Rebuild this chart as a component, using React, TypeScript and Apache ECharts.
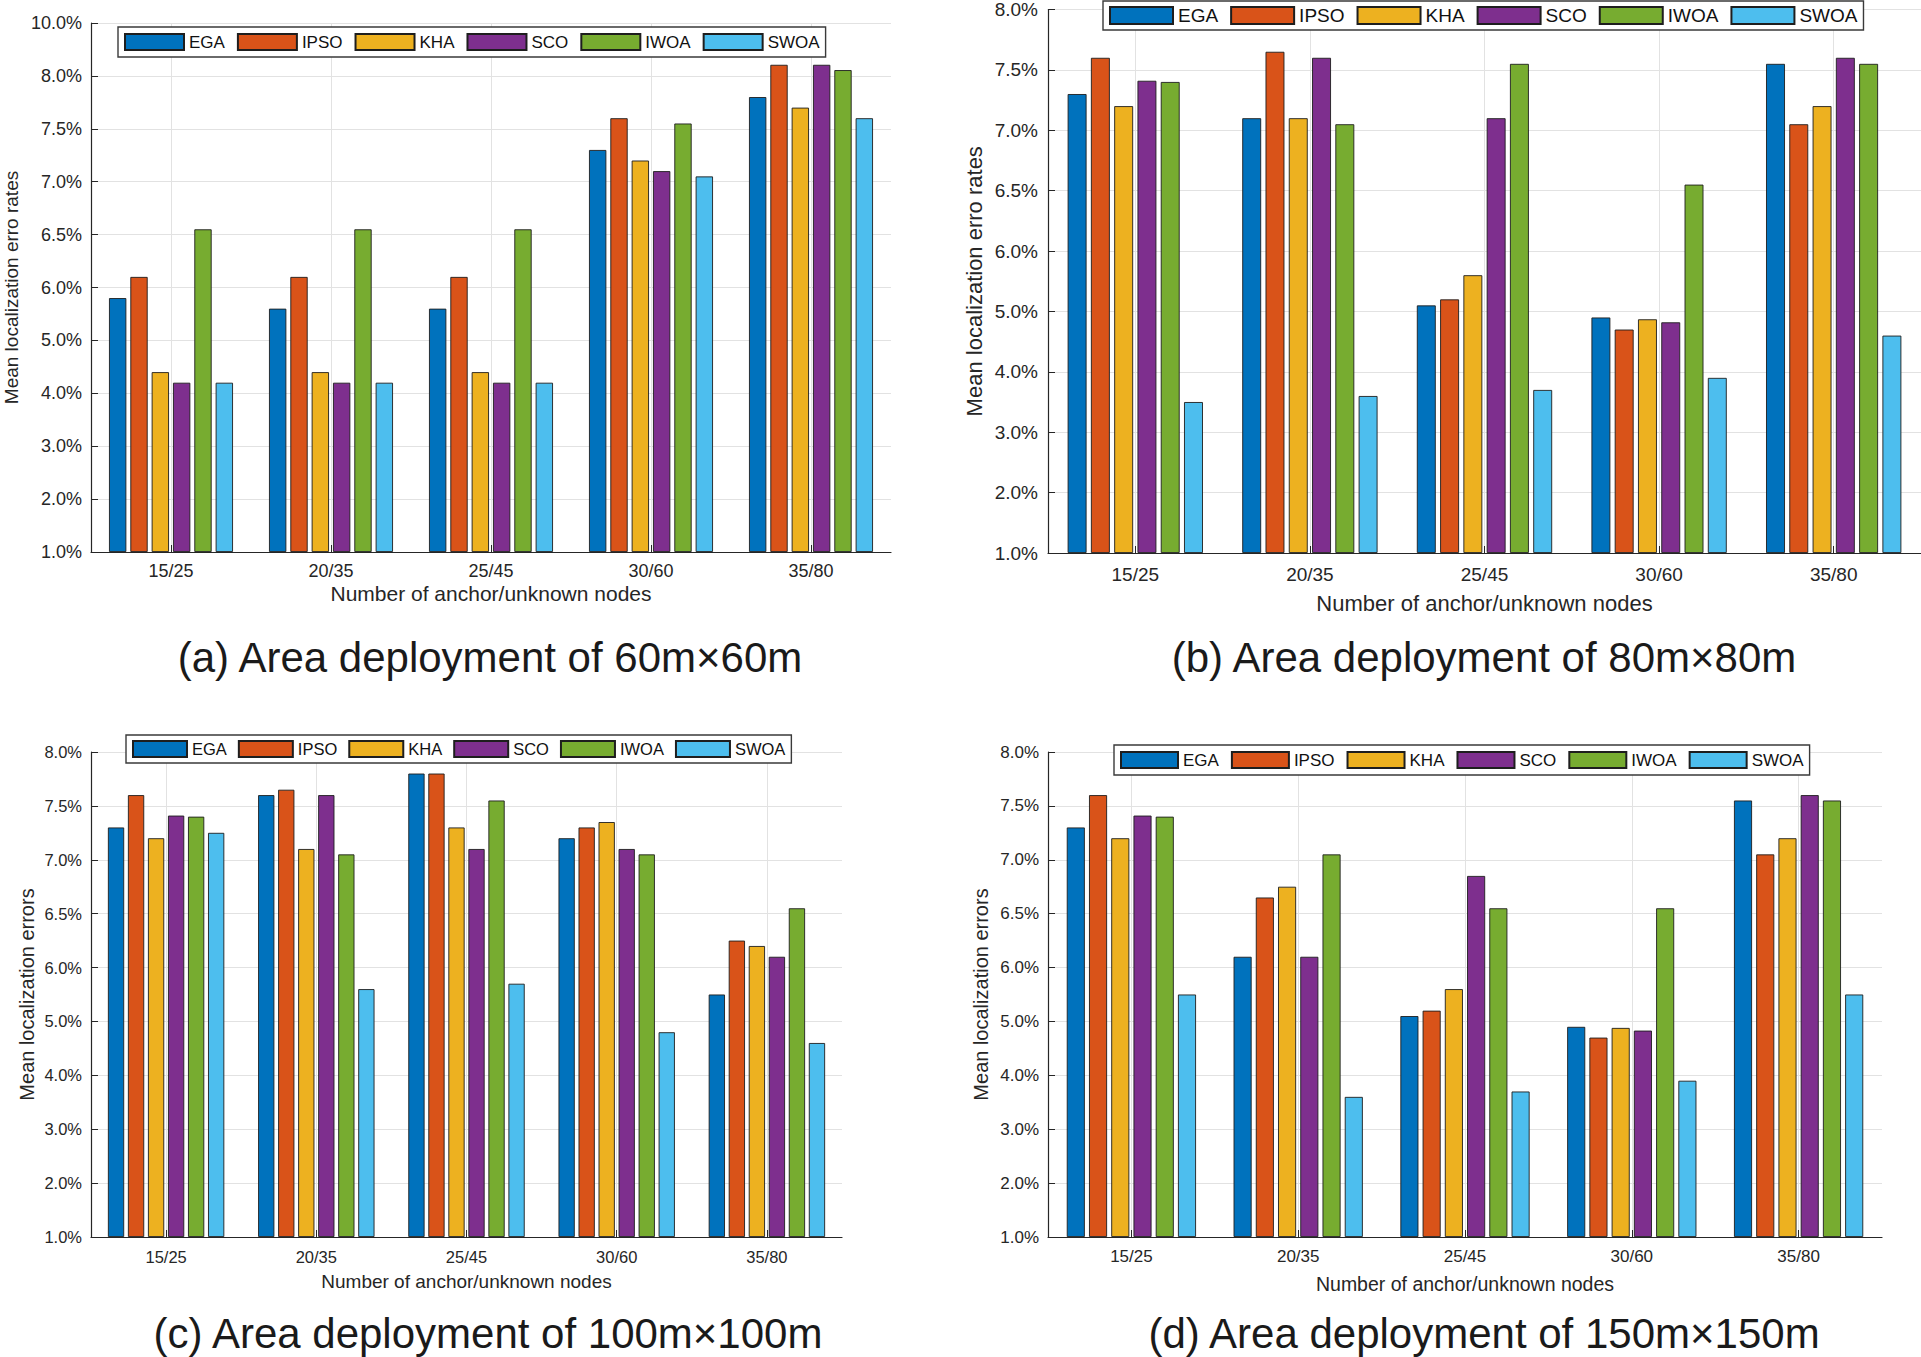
import React, { useEffect, useRef } from "react";
import * as echarts from "echarts";

// ---------- data ----------
const categories = ["15/25", "20/35", "25/45", "30/60", "35/80"];
const algorithms = ["EGA", "IPSO", "KHA", "SCO", "IWOA", "SWOA"];
const colors = ["#0072BD", "#D95319", "#EDB120", "#7E2F8E", "#77AC30", "#4DBEEE"];

// y tick labels as printed on each panel (evenly spaced on the axis)
const tickLabelsA = ["1.0%", "2.0%", "3.0%", "4.0%", "5.0%", "6.0%", "6.5%", "7.0%", "7.5%", "8.0%", "10.0%"];
const tickLabelsBCD = ["1.0%", "2.0%", "3.0%", "4.0%", "5.0%", "6.0%", "6.5%", "7.0%", "7.5%", "8.0%"];

// rows: EGA, IPSO, KHA, SCO, IWOA, SWOA ; columns: categories (values in %)
const valuesA = [
  [5.8, 5.6, 5.6, 7.3, 7.8],
  [6.1, 6.1, 6.1, 7.6, 8.42],
  [4.4, 4.4, 4.4, 7.2, 7.7],
  [4.2, 4.2, 4.2, 7.1, 8.42],
  [6.55, 6.55, 6.55, 7.55, 8.22],
  [4.2, 4.2, 4.2, 7.05, 7.6],
];
const valuesB = [
  [7.3, 7.1, 5.1, 4.9, 7.55],
  [7.6, 7.65, 5.2, 4.7, 7.05],
  [7.2, 7.1, 5.6, 4.87, 7.2],
  [7.41, 7.6, 7.1, 4.82, 7.6],
  [7.4, 7.05, 7.55, 6.55, 7.55],
  [3.5, 3.6, 3.7, 3.9, 4.6],
];
const valuesC = [
  [7.3, 7.6, 7.8, 7.2, 5.5],
  [7.6, 7.65, 7.8, 7.3, 6.25],
  [7.2, 7.1, 7.3, 7.35, 6.2],
  [7.41, 7.6, 7.1, 7.1, 6.1],
  [7.4, 7.05, 7.55, 7.05, 6.55],
  [7.25, 5.6, 5.7, 4.8, 4.6],
];
const valuesD = [
  [7.3, 6.1, 5.1, 4.9, 7.55],
  [7.6, 6.65, 5.2, 4.7, 7.05],
  [7.2, 6.75, 5.6, 4.88, 7.2],
  [7.41, 6.1, 6.85, 4.83, 7.6],
  [7.4, 7.05, 6.55, 6.55, 7.55],
  [5.5, 3.6, 3.7, 3.9, 5.5],
];

const panelTitles = [
  "(a) Area deployment of 60m×60m",
  "(b) Area deployment of 80m×80m",
  "(c) Area deployment of 100m×100m",
  "(d) Area deployment of 150m×150m",
];
const yNames = [
  "Mean localization erro rates",
  "Mean localization erro rates",
  "Mean localization errors",
  "Mean localization errors",
];
const xName = "Number of anchor/unknown nodes";

// ---------- layout ----------
const FONT = "'Liberation Sans', Arial, Helvetica, sans-serif";
const TXT = "#262626";
const GRIDC = "#e2e2e2";

const layout = [
  {
    values: valuesA, ticks: tickLabelsA,
    grid: { left: 91, top: 23, width: 800, height: 529 },
    legend: { left: 118, top: 27, itemWidth: 59, itemHeight: 16, font: 17, gap: 12, pad: [6, 6] },
    tickFont: 18, xNameFont: 21, xNameGap: 31, xLabelMargin: 10, yLabelMargin: 9,
    yNameFont: 19, yNameGap: 70,
    title: { x: 490, y: 657 },
  },
  {
    values: valuesB, ticks: tickLabelsBCD,
    grid: { left: 1048, top: 9, width: 873, height: 544 },
    legend: { left: 1103, top: 1, itemWidth: 63, itemHeight: 17, font: 19, gap: 12, pad: [5, 6] },
    tickFont: 19, xNameFont: 22, xNameGap: 39, xLabelMargin: 12, yLabelMargin: 10,
    yNameFont: 22, yNameGap: 63,
    title: { x: 1484, y: 657 },
  },
  {
    values: valuesC, ticks: tickLabelsBCD,
    grid: { left: 91, top: 752, width: 751, height: 485 },
    legend: { left: 126, top: 735, itemWidth: 54, itemHeight: 16, font: 16.5, gap: 11, pad: [5, 6] },
    tickFont: 16.5, xNameFont: 19, xNameGap: 35, xLabelMargin: 11, yLabelMargin: 9,
    yNameFont: 20, yNameGap: 54,
    title: { x: 488, y: 1333 },
  },
  {
    values: valuesD, ticks: tickLabelsBCD,
    grid: { left: 1048, top: 752, width: 834, height: 485 },
    legend: { left: 1114, top: 745, itemWidth: 57, itemHeight: 16, font: 17, gap: 12, pad: [6, 6] },
    tickFont: 17, xNameFont: 19.5, xNameGap: 37, xLabelMargin: 11, yLabelMargin: 9,
    yNameFont: 20, yNameGap: 57,
    title: { x: 1484, y: 1333 },
  },
];

// map a percentage onto the evenly spaced (non-linear) printed tick scale
function toAxis(v: number, labels: string[]): number {
  const t = labels.map((s) => parseFloat(s));
  for (let i = 0; i < t.length - 1; i++) {
    if (v <= t[i + 1]) return i + (v - t[i]) / (t[i + 1] - t[i]);
  }
  return t.length - 1;
}

function buildOption(): any {
  const grid: any[] = [];
  const xAxis: any[] = [];
  const yAxis: any[] = [];
  const legend: any[] = [];
  const series: any[] = [];
  const graphic: any[] = [];

  layout.forEach((p, i) => {
    grid.push({ ...p.grid, containLabel: false });
    xAxis.push({
      type: "category",
      gridIndex: i,
      data: categories,
      boundaryGap: true,
      axisLine: { show: true, lineStyle: { color: TXT, width: 1.2 } },
      axisTick: { show: true, inside: true, alignWithLabel: true, length: 7, lineStyle: { color: TXT, width: 1 } },
      axisLabel: { color: TXT, fontSize: p.tickFont, fontFamily: FONT, margin: p.xLabelMargin },
      splitLine: { show: true, alignWithLabel: true, lineStyle: { color: GRIDC, width: 1 } },
      name: xName,
      nameLocation: "middle",
      nameGap: p.xNameGap,
      nameTextStyle: { color: TXT, fontSize: p.xNameFont, fontFamily: FONT },
    });
    const labels = p.ticks;
    yAxis.push({
      type: "value",
      gridIndex: i,
      min: 0,
      max: labels.length - 1,
      interval: 1,
      axisLine: { show: true, lineStyle: { color: TXT, width: 1.2 } },
      axisTick: { show: true, inside: true, length: 7, lineStyle: { color: TXT, width: 1 } },
      axisLabel: {
        color: TXT,
        fontSize: p.tickFont,
        fontFamily: FONT,
        margin: p.yLabelMargin,
        formatter: (v: number) => labels[Math.round(v)] ?? "",
      },
      splitLine: { show: true, lineStyle: { color: GRIDC, width: 1 } },
      name: yNames[i],
      nameLocation: "middle",
      nameGap: p.yNameGap,
      nameTextStyle: { color: TXT, fontSize: p.yNameFont, fontFamily: FONT },
    });
    legend.push({
      data: algorithms,
      orient: "horizontal",
      left: p.legend.left,
      top: p.legend.top,
      itemWidth: p.legend.itemWidth,
      itemHeight: p.legend.itemHeight,
      itemGap: p.legend.gap,
      padding: p.legend.pad,
      icon: "rect",
      backgroundColor: "#ffffff",
      borderColor: "#3a3a3a",
      borderWidth: 1.4,
      borderRadius: 0,
      selectedMode: false,
      textStyle: { color: "#111", fontSize: p.legend.font, fontFamily: FONT, padding: [0, 0, 0, 0] },
    });
    algorithms.forEach((name, j) => {
      series.push({
        type: "bar",
        name,
        xAxisIndex: i,
        yAxisIndex: i,
        data: p.values[j].map((v) => toAxis(v, labels)),
        barGap: "23%",
        barCategoryGap: "22.5%",
        itemStyle: { color: colors[j], borderColor: "#1e1e1e", borderWidth: 0.9 },
        emphasis: { disabled: true },
      });
    });
    graphic.push({
      type: "text",
      x: p.title.x,
      y: p.title.y,
      style: {
        text: panelTitles[i],
        fontSize: 42,
        fontFamily: FONT,
        fill: "#1a1a1a",
        align: "center",
        verticalAlign: "middle",
      },
    });
  });

  return {
    animation: false,
    backgroundColor: "#ffffff",
    textStyle: { fontFamily: FONT },
    grid,
    xAxis,
    yAxis,
    legend,
    series,
    graphic,
  };
}

export default function App() {
  const ref = useRef<HTMLDivElement>(null);
  useEffect(() => {
    document.body.style.margin = "0";
    document.body.style.overflow = "hidden";
    if (!ref.current) return;
    const chart = echarts.init(ref.current, undefined, { renderer: "svg" });
    chart.setOption(buildOption());
    return () => chart.dispose();
  }, []);
  return <div ref={ref} style={{ width: 1921, height: 1357, background: "#fff" }} />;
}
